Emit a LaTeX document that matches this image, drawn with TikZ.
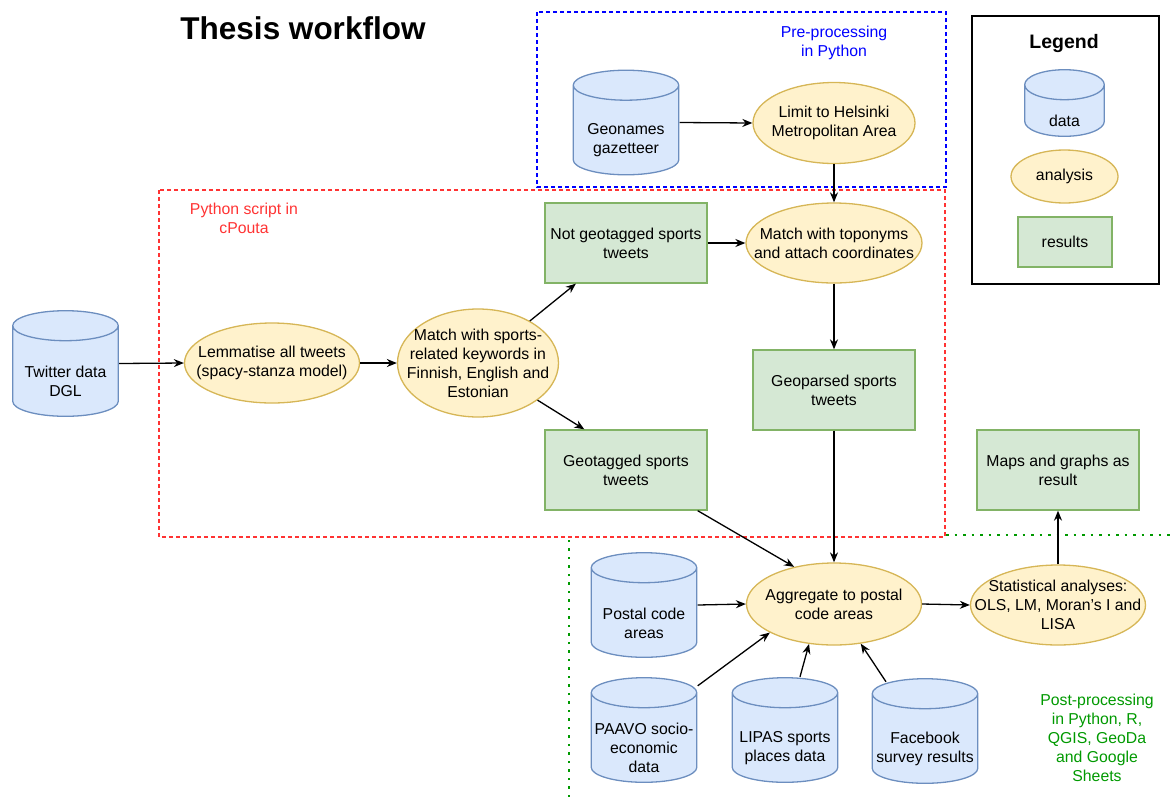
\documentclass[tikz,border=0pt]{standalone}
\usepackage{fontspec}
\setmainfont{Liberation Sans}
\usetikzlibrary{shapes.geometric, arrows.meta, calc}

\definecolor{datafill}{HTML}{DAE8FC}
\definecolor{dataline}{HTML}{6C8EBF}
\definecolor{anafill}{HTML}{FFF2CC}
\definecolor{analine}{HTML}{D6B656}
\definecolor{resfill}{HTML}{D5E8D4}
\definecolor{resline}{HTML}{82B366}
\definecolor{prered}{HTML}{FF3333}
\definecolor{preblue}{HTML}{0000FF}
\definecolor{postgreen}{HTML}{009900}

\tikzset{
  every node/.style={font=\fontsize{15.8}{19}\selectfont},
  flow/.style={line width=1.3pt, -{Stealth[length=10pt, width=8pt]}},
  analysis/.style={ellipse, draw=analine, fill=anafill, line width=1.3pt,
    inner xsep=-40pt, inner ysep=-15pt, align=center},
  result/.style={rectangle, draw=resline, fill=resfill, line width=1.3pt,
    inner sep=2pt, minimum width=162, minimum height=80, align=center},
  cylshape/.style={draw=dataline, fill=datafill, line width=1.3pt},
  cyltext/.style={align=center, yshift=-18pt},
  datacyl/.style={rectangle, inner sep=0pt, minimum width=107, minimum height=106,
    path picture={
      \path[cylshape] let \p1=(path picture bounding box.south west),
          \p2=(path picture bounding box.north east),
          \n1={(\x2-\x1)/2-0.7pt}
        in (\x1+0.7pt,\y1+15.7pt) -- (\x1+0.7pt,\y2-15.7pt)
           arc[start angle=180, end angle=0, x radius={\n1*1pt}, y radius=15pt]
           -- (\x2-0.7pt,\y1+15.7pt)
           arc[start angle=0, end angle=-180, x radius={\n1*1pt}, y radius=15pt] -- cycle
           (\x2-0.7pt,\y2-15.7pt)
           arc[start angle=0, end angle=-180, x radius={\n1*1pt}, y radius=15pt];
    }},
  groupbox/.style={line width=1.3pt, dash pattern=on 4pt off 3pt},
}

\begin{document}
\begin{tikzpicture}[x=1pt, y=-1pt]
\useasboundingbox (0,0) rectangle (1173,796);

% frames
\draw[postgreen, line width=2.2pt, dash pattern=on 2.5pt off 6pt]
  (569,797) -- (569,539) (946,535) -- (1174,535);
\draw[groupbox, preblue] (537,12) rectangle (946,187);
\draw[groupbox, prered] (159,190) rectangle (945,537);

\node[font=\fontsize{31.5}{36}\selectfont\bfseries] (title) at (303,28.5) {Thesis workflow};
\node[text=preblue, align=center] (prelabel) at (834,43) {Pre-processing\\in Python};
\node[text=prered, align=center] (scriptlabel) at (244,218) {Python script in\\cPouta};
\node[text=postgreen, align=center] (postlabel) at (1097,738)
  {Post-processing\\in Python, R,\\QGIS, GeoDa\\and Google\\Sheets};

% legend
\node[draw, line width=1.3pt, minimum width=187, minimum height=268] (legend) at (1065.5,150) {};
\node[font=\fontsize{19.5}{23}\selectfont\bfseries] (legendtitle) at (1064,43) {Legend};
\node[datacyl, minimum width=81, minimum height=68, label={[cyltext]center:data}] (legdata) at (1064.5,103) {};
\node[analysis, minimum width=107, minimum height=53] (legana) at (1064.5,176.5) {analysis};
\node[result, minimum width=94, minimum height=50] (legres) at (1065,242) {results};

% pre-processing
\node[datacyl, label={[cyltext]center:Geonames\\gazetteer}] (geonames) at (626,122.5) {};
\node[analysis, minimum width=162, minimum height=81] (limit) at (834,123) {Limit to Helsinki\\Metropolitan Area};

% python script
\node[datacyl, minimum height=107, label={[cyltext]center:Twitter data\\DGL}] (twitter) at (65.5,363.5) {};
\node[analysis, minimum width=175, minimum height=80] (lemma) at (272,363) {Lemmatise all tweets\\(spacy-stanza model)};
\node[analysis, minimum width=161, minimum height=108] (match) at (478,363)
  {Match with sports-\\related keywords in\\Finnish, English and\\Estonian};
\node[result] (notgeo) at (626,243) {Not geotagged sports\\tweets};
\node[result] (geotag) at (626,470) {Geotagged sports\\tweets};
\node[analysis, minimum width=176, minimum height=80] (toponyms) at (834,243) {Match with toponyms\\and attach coordinates};
\node[result] (geoparsed) at (834,390) {Geoparsed sports\\tweets};

% post-processing
\node[datacyl, label={[cyltext]center:Postal code\\areas}] (postal) at (644,605) {};
\node[datacyl, label={[cyltext]center:PAAVO socio-\\economic\\data}] (paavo) at (644,730) {};
\node[datacyl, label={[cyltext]center:LIPAS sports\\places data}] (lipas) at (785,730) {};
\node[datacyl, label={[cyltext]center:Facebook\\survey results}] (facebook) at (925,731) {};
\node[analysis, minimum width=175, minimum height=82] (aggregate) at (834,604) {Aggregate to postal\\code areas};
\node[analysis, minimum width=175, minimum height=80] (stats) at (1058,605)
  {Statistical analyses:\\OLS, LM, Moran's I and\\LISA};
\node[result] (maps) at (1058,470) {Maps and graphs as\\result};

% connectors
\draw[flow] (geonames.east) -- (limit.west);
\draw[flow] (limit.south) -- (toponyms.north);
\draw[flow] (twitter.east) -- (lemma.west);
\draw[flow] (lemma.east) -- (match.west);
\draw[flow] (match) -- (notgeo);
\draw[flow] (match) -- ([xshift=40pt]geotag.north west);
\draw[flow] (notgeo.east) -- (toponyms.west);
\draw[flow] (toponyms.south) -- (geoparsed.north);
\draw[flow] (geoparsed.south) -- (aggregate.north);
\draw[flow] ([xshift=-10pt]geotag.south east) -- (aggregate.137);
\draw[flow] (postal.east) -- (aggregate.west);
\draw[flow] ([yshift=-9pt]paavo.north east) -- (aggregate.204);
\draw[flow] ([xshift=15pt]lipas.north) -- (aggregate.238);
\draw[flow] ([xshift=-39pt, yshift=-4pt]facebook.north) -- (aggregate.304);
\draw[flow] (aggregate.east) -- (stats.west);
\draw[flow] (stats.north) -- (maps.south);
\end{tikzpicture}
\end{document}
